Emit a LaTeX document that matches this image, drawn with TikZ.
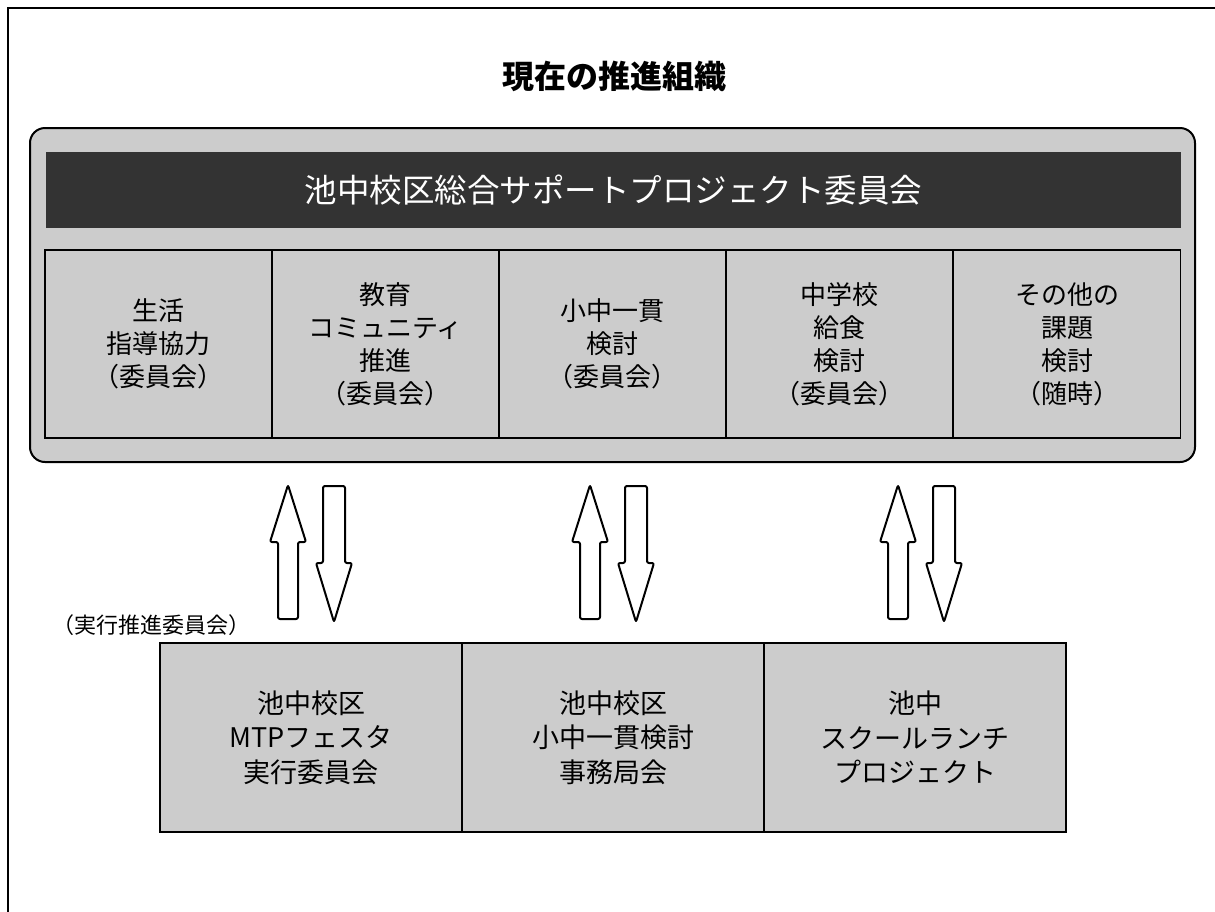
\documentclass[tikz,border=0pt]{standalone}
\usepackage{fontspec}
\setmainfont{Noto Sans CJK JP}
\definecolor{cellgray}{HTML}{CCCCCC}
\definecolor{bardark}{HTML}{333333}
\begin{document}
\begin{tikzpicture}[x=1pt,y=-1pt,
  cell/.style={draw=black,line width=1.8pt,fill=cellgray,inner sep=0pt,align=center,
    font=\fontsize{26}{33}\selectfont},
  blockarrow/.style={draw=black,line width=2pt,fill=white,rounded corners=2pt,line join=round}]
\useasboundingbox (0,0) rectangle (1215,911);
% outer frame (clipped)
\draw[line width=2pt] (8,930) -- (8,8) -- (1230,8);
% title
\node[font=\fontsize{32}{36}\selectfont\bfseries] (title) at (614,76) {現在の推進組織};
% rounded container
\draw[line width=2pt,fill=cellgray,rounded corners=15pt] (30,128) rectangle (1195,462);
\node[fill=bardark,text=white,minimum width=1135pt,minimum height=76pt,inner sep=0pt,
  font=\fontsize{32.5}{36}\selectfont] (bar) at (613.5,190) {池中校区総合サポートプロジェクト委員会};
% committee cells
\node[cell,minimum width=227pt,minimum height=188pt] (c1) at (158.5,344) {生活\\指導協力\\（委員会）};
\node[cell,minimum width=227pt,minimum height=188pt] (c2) at (385.5,344) {教育\\コミュニティ\\推進\\（委員会）};
\node[cell,minimum width=227pt,minimum height=188pt] (c3) at (612.5,344) {小中一貫\\検討\\（委員会）};
\node[cell,minimum width=227pt,minimum height=188pt] (c4) at (839.5,344) {中学校\\給食\\検討\\（委員会）};
\node[cell,minimum width=227pt,minimum height=188pt] (c5) at (1067,344) {その他の\\課題\\検討\\（随時）};
% label
\node[font=\fontsize{22}{24}\selectfont] (lbl) at (151,625) {（実行推進委員会）};
% bottom cells
\node[cell,minimum width=302pt,minimum height=189pt,font=\fontsize{27}{34.5}\selectfont] (b1) at (311,737.5) {池中校区\\MTPフェスタ\\実行委員会};
\node[cell,minimum width=302pt,minimum height=189pt,font=\fontsize{27}{34.5}\selectfont] (b2) at (613,737.5) {池中校区\\小中一貫検討\\事務局会};
\node[cell,minimum width=302pt,minimum height=189pt,font=\fontsize{27}{34.5}\selectfont] (b3) at (915,737.5) {池中\\スクールランチ\\プロジェクト};
% block arrows
\foreach \u/\d in {288/334, 590/636, 898/944}{
  \draw[blockarrow] (\u,485) -- (\u+18,542) -- (\u+10,542) -- (\u+10,619) -- (\u-10,619) -- (\u-10,542) -- (\u-18,542) -- cycle;
  \draw[blockarrow] (\d-11,486) -- (\d+11,486) -- (\d+11,563) -- (\d+18,563) -- (\d,622) -- (\d-18,563) -- (\d-11,563) -- cycle;
}
\end{tikzpicture}
\end{document}
